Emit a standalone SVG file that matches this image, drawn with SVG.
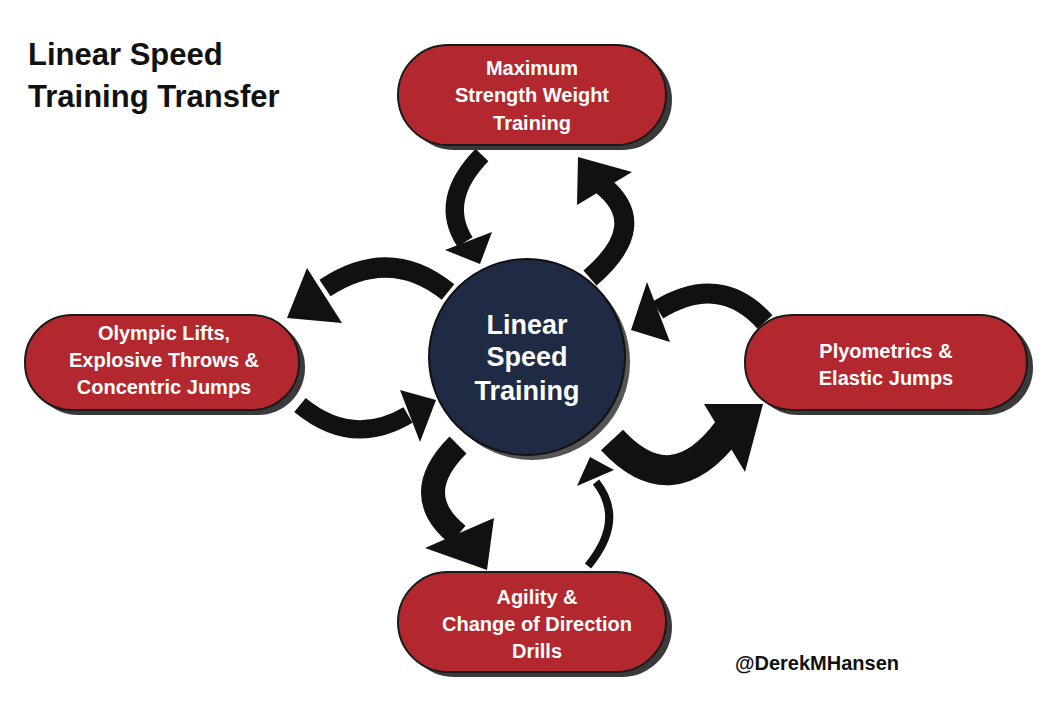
<svg xmlns="http://www.w3.org/2000/svg" width="1063" height="717" viewBox="0 0 1063 717">
<style>
.pill{fill:#b3282e;stroke:#1a1a1a;stroke-width:2}
.sh{fill:#3a3a3a}
.t{font-family:"Liberation Sans",Arial,sans-serif;font-weight:bold;fill:#fff;text-anchor:middle;font-size:20px}
.ttl{font-family:"Liberation Sans",Arial,sans-serif;font-weight:bold;fill:#111;font-size:31px}
.arc{fill:none;stroke:#111}
.hd{fill:#111}
</style>
<rect width="1063" height="717" fill="#fff"/>
<text class="ttl" x="28" y="65">Linear Speed</text>
<text class="ttl" x="28" y="107">Training Transfer</text>
<g id="connectors">
<path class="arc" d="M482,155 Q438,200 465,242" stroke-width="18"/>
<polygon class="hd" points="445,250 492,232 480,264"/>
<path class="arc" d="M590,278 Q652,225 602,185" stroke-width="20"/>
<polygon class="hd" points="578,157 632,172 577,205"/>
<path class="arc" d="M448,292 Q390,245 325,288" stroke-width="20"/>
<polygon class="hd" points="307,268 342,323 287,318"/>
<path class="arc" d="M300,405 Q352,448 408,415" stroke-width="18"/>
<polygon class="hd" points="400,390 436,400 420,442"/>
<path class="arc" d="M765,322 Q720,272 658,310" stroke-width="20"/>
<polygon class="hd" points="647,282 670,342 631,330"/>
<path class="arc" d="M612,440 Q672,505 728,430" stroke-width="30"/>
<polygon class="hd" points="704,404 763,404 745,472"/>
<path class="arc" d="M458,445 Q408,495 458,535" stroke-width="24"/>
<polygon class="hd" points="425,548 494,518 487,570"/>
<path class="arc" d="M588,566 Q626,520 596,482" stroke-width="8"/>
<polygon class="hd" points="577,486 614,470 590,457"/>
</g>
<g id="center">
<circle cx="532" cy="362" r="98" fill="#555"/>
<circle cx="527" cy="357" r="98" fill="#1f2a45" stroke="#111" stroke-width="2"/>
<text class="t" style="font-size:27px" x="527" y="334">Linear</text>
<text class="t" style="font-size:27px" x="527" y="366">Speed</text>
<text class="t" style="font-size:27px" x="527" y="400">Training</text>
</g>
<g id="top">
<rect class="sh" x="404" y="50" width="268" height="100" rx="50"/>
<rect class="pill" x="398" y="45" width="268" height="100" rx="50"/>
<text class="t" x="532" y="75">Maximum</text>
<text class="t" x="532" y="102">Strength Weight</text>
<text class="t" x="532" y="130">Training</text>
</g>
<g id="left">
<rect class="sh" x="31" y="320" width="274" height="95" rx="47"/>
<rect class="pill" x="25" y="315" width="274" height="95" rx="47"/>
<text class="t" x="164" y="340">Olympic Lifts,</text>
<text class="t" x="164" y="367">Explosive Throws &amp;</text>
<text class="t" x="164" y="394">Concentric Jumps</text>
</g>
<g id="right">
<rect class="sh" x="751" y="320" width="282" height="95" rx="47"/>
<rect class="pill" x="745" y="315" width="282" height="95" rx="47"/>
<text class="t" x="886" y="358">Plyometrics &amp;</text>
<text class="t" x="886" y="385">Elastic Jumps</text>
</g>
<g id="bottom">
<rect class="sh" x="404" y="577" width="268" height="100" rx="50"/>
<rect class="pill" x="398" y="572" width="268" height="100" rx="50"/>
<text class="t" x="537" y="604">Agility &amp;</text>
<text class="t" x="537" y="631">Change of Direction</text>
<text class="t" x="537" y="658">Drills</text>
</g>
<text x="735" y="670" style="font-family:'Liberation Sans',Arial,sans-serif;font-weight:bold;font-size:20px;fill:#111">@DerekMHansen</text>
</svg>
